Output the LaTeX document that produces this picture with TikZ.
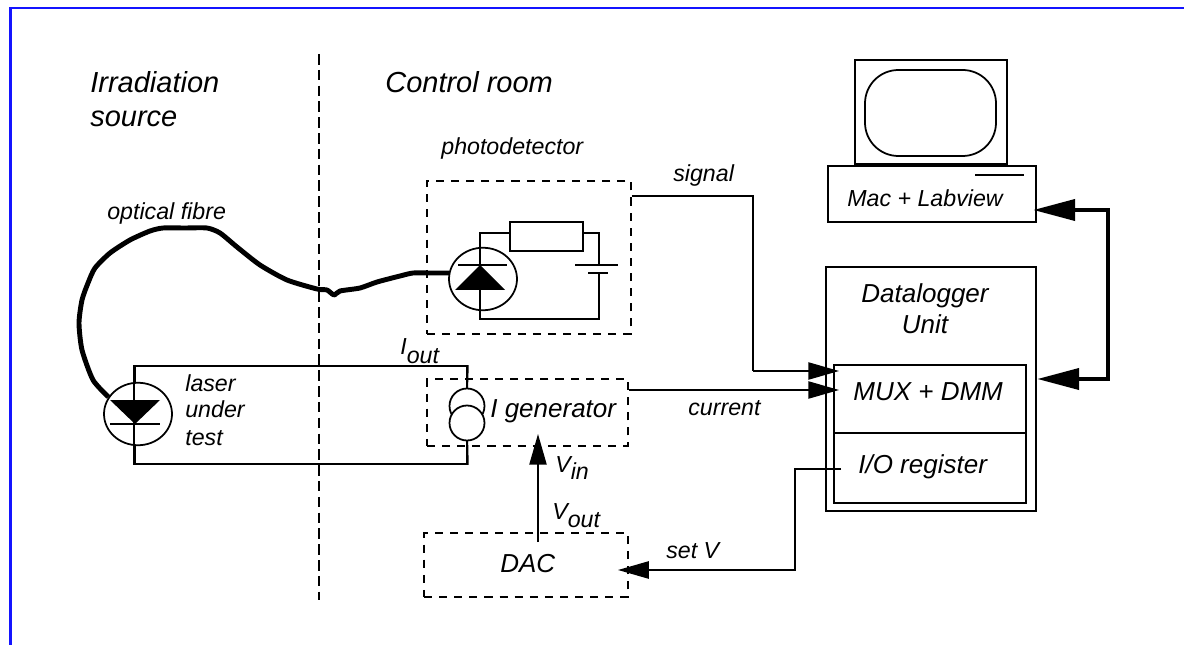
\documentclass[tikz,border=0pt]{standalone}
\usepackage{fontspec}
\setmainfont{Liberation Sans}
\usetikzlibrary{arrows.meta,shapes.geometric}
\definecolor{framecol}{RGB}{20,20,255}
\tikzset{
    smalllbl/.style={inner sep=0pt, font=\fontsize{13.2}{15}\selectfont\itshape},
    boxlbl/.style={inner sep=0pt, font=\fontsize{14.8}{17.6}\selectfont\itshape},
    biglbl/.style={inner sep=0pt, font=\fontsize{16.5}{18.7}\selectfont\itshape},
    wire/.style={line width=1pt},
    fibre/.style={line width=2.8pt, line join=round},
    bus/.style={line width=2.7pt, -{Triangle[length=24pt,width=11.8pt]}},
    sigarrow/.style={line width=1pt, -{Triangle[length=17.5pt,width=9.8pt]}},
    dashbox/.style={draw, line width=1.1pt, dash pattern=on 4.6pt off 4pt, inner sep=0pt},
    plainbox/.style={draw, line width=1pt, inner sep=0pt},
    outerbox/.style={draw, line width=1.4pt, inner sep=0pt},
    diode/.style={ellipse, draw, line width=1pt, inner sep=0pt, minimum width=1.36cm, minimum height=1.25cm},
    gencircle/.style={circle, draw, line width=1pt, fill=white, inner sep=0pt, minimum size=0.7cm}
}
\begin{document}
\begin{tikzpicture}[x=0.02cm, y=-0.02cm]
    \useasboundingbox (0,0) rectangle (1184,645);

    % Frame
    \draw[framecol, line width=1.6pt] (10.5,645) -- (10.5,8) -- (1184,8);

    % Divider and titles
    \coordinate (divtop) at (319,54);
    \coordinate (divbot) at (319,600);
    \draw[line width=1pt, dash pattern=on 6pt off 3pt] (divtop) -- (divbot);
    \node[biglbl, anchor=base west] (irr) at (90,92.5) {Irradiation};
    \node[biglbl, anchor=base west] (src) at (90,127) {source};
    \node[biglbl, anchor=base west] (ctrl) at (385,92.5) {Control room};

    % Laser under test
    \node[plainbox, minimum width=6.64cm, minimum height=1.96cm] (loop) at (301,415) {};
    \node[diode, fill=white] (laser) at (138,414) {};
    \draw[wire] (loop.north west) -- (loop.south west);
    \fill (110,400) -- (160,400) -- (135,424) -- cycle;
    \draw[wire] (110,424) -- (160,424);
    \node[smalllbl, anchor=base west] (las1) at (185,392) {laser};
    \node[smalllbl, anchor=base west] (las2) at (185,418) {under};
    \node[smalllbl, anchor=base west] (las3) at (185,445) {test};
    \node[smalllbl, anchor=base west] (iout) at (400,355) {I\raisebox{-4.6pt}{out}};

    % Photodetector
    \node[dashbox, minimum width=4.08cm, minimum height=3.06cm] (pdbox) at (529,257.5) {};
    \node[smalllbl, anchor=base west] (pdtxt) at (441,155) {photodetector};
    \node[diode] (pd) at (483,279) {};
    \node[plainbox, minimum width=1.46cm, minimum height=0.58cm] (res) at (546.5,236.5) {};
    \coordinate (cornerA) at (480,233);
    \coordinate (cornerB) at (480,319);
    \coordinate (cornerC) at (599,319);
    \coordinate (cornerD) at (599,233);
    \coordinate (platelong) at (599,265);
    \coordinate (plateshort) at (599,273);
    \draw[wire] (res.west |- cornerA) -- (cornerA) -- (cornerB) -- (cornerC) -- (plateshort);
    \draw[wire] (res.east |- cornerD) -- (cornerD) -- (platelong);
    \draw[wire] (575,265) -- (618,265);
    \draw[wire] (588,273) -- (608,273);
    \fill (455,290) -- (505,290) -- (480,265) -- cycle;
    \draw[wire] (458,265) -- (507,265);

    % Fibre
    \draw[fibre] plot[smooth, tension=0.4] coordinates {(laser.150) (93,380) (82,350) (79,323)
        (82,300) (88,283) (95,268) (110,253) (130,240) (150,231) (163,228) (185,228) (207,228) (220,233)
        (237,247) (260,265) (287,280) (317,289) (327,290) (334,295) (340,291) (360,288)
        (377,282) (400,276) (413,273) (430,273) (pd.170)};
    \node[smalllbl, anchor=base west] (fibtxt) at (107,220) {optical fibre};

    % I generator
    \node[dashbox, minimum width=4.02cm, minimum height=1.34cm] (genbox) at (527.5,412.5) {};
    \draw[wire] (loop.north east) -- (467,395);
    \draw[wire] (467,430) -- (loop.south east);
    \node[gencircle] (gen1) at (467,406) {};
    \node[gencircle] (gen2) at (467,423) {};
    \node[boxlbl, anchor=base west] (gentxt) at (490,418) {I generator};

    % DAC
    \node[dashbox, minimum width=4.08cm, minimum height=1.28cm] (dac) at (526,565) {};
    \node[boxlbl, anchor=base west] (dactxt) at (500,572) {DAC};

    % Computer
    \node[plainbox, minimum width=3.04cm, minimum height=2.08cm] (monitor) at (931,112) {};
    \draw[wire, rounded corners=19pt] (865,70) rectangle (996,156);
    \node[outerbox, minimum width=4.16cm, minimum height=1.12cm] (mac) at (932,194) {};
    \draw[line width=1.2pt] (975,175) -- (1024,175);
    \node[smalllbl, anchor=base west] (mactxt) at (847,207) {Mac + Labview};

    % Datalogger
    \node[outerbox, minimum width=4.2cm, minimum height=4.88cm] (logger) at (931,389) {};
    \node[boxlbl] (logtxt1) at (925,303) [anchor=base] {Datalogger};
    \node[boxlbl] (logtxt2) at (925,334) [anchor=base] {Unit};
    \node[outerbox, minimum width=3.84cm, minimum height=1.36cm] (mux) at (930,399) {};
    \node[outerbox, minimum width=3.84cm, minimum height=1.4cm] (reg) at (930,468) {};
    \node[boxlbl, anchor=base west] (muxtxt) at (853,400) {MUX + DMM};
    \node[boxlbl, anchor=base west] (regtxt) at (858,473) {I/O register};

    % Connectors
    \coordinate (sigbend) at (753,196);
    \coordinate (sigend) at (839,371);
    \draw[wire] (pdbox.east |- sigbend) -- (sigbend) -- (sigbend |- sigend);
    \draw[sigarrow] (sigbend |- sigend) -- (sigend);
    \node[smalllbl, anchor=base west] (sigtxt) at (673,182) {signal};

    \coordinate (curend) at (839,390);
    \draw[sigarrow] (genbox.east |- curend) -- (curend);
    \node[smalllbl, anchor=base west] (curtxt) at (688,416) {current};

    \coordinate (vstart) at (538,542);
    \coordinate (vend) at (538,434);
    \draw[sigarrow] (vstart) -- (vend);
    \node[smalllbl, anchor=base west] (vin) at (555,472) {V\raisebox{-4pt}{in}};
    \node[smalllbl, anchor=base west] (vout) at (552,519) {V\raisebox{-5pt}{out}};

    \coordinate (regout) at (841,469);
    \coordinate (setbend) at (795,570);
    \coordinate (setend) at (618,570);
    \draw[sigarrow] (regout) -- (setbend |- regout) -- (setbend) -- (setend);
    \node[smalllbl, anchor=base west] (settxt) at (666,558) {set V};

    \coordinate (busA) at (1033,210);
    \coordinate (busB) at (1037,379);
    \coordinate (busmid) at (1108,295);
    \draw[bus] (busmid |- busA) -- (busA);
    \draw[bus] (busmid |- busB) -- (busB);
    \draw[line width=2.7pt, line cap=rect] (busmid |- busA) -- (busmid |- busB);
\end{tikzpicture}
\end{document}
